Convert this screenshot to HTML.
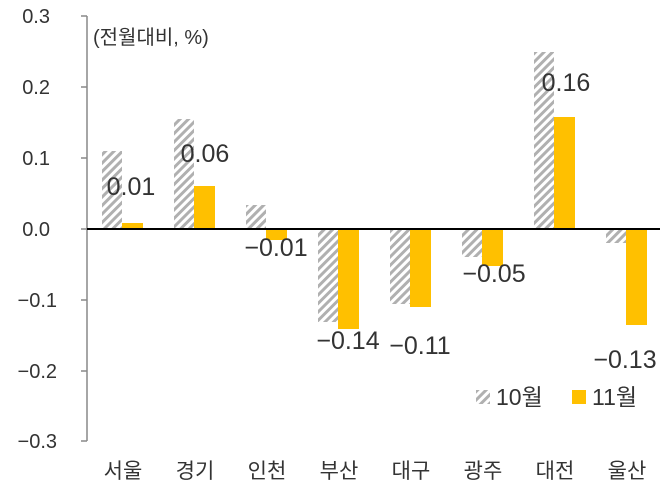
<!DOCTYPE html><html><head><meta charset="utf-8"><style>body{margin:0;background:#fff}svg{display:block}text{font-family:"Liberation Sans","Noto Sans CJK KR",sans-serif;fill:#333}</style></head><body>
<svg width="666" height="504" viewBox="0 0 666 504">
<defs><pattern id="h" patternUnits="userSpaceOnUse" width="6" height="6" patternTransform="rotate(45)"><rect width="6" height="6" fill="#fff"/><rect width="3" height="6" fill="#b0b0b0"/></pattern></defs>
<line x1="87" y1="16" x2="87" y2="441" stroke="#888" stroke-width="1.5"/>
<g stroke="#888" stroke-width="1.5">
<line x1="81" y1="16" x2="87" y2="16"/><line x1="81" y1="87" x2="87" y2="87"/><line x1="81" y1="158" x2="87" y2="158"/><line x1="81" y1="229" x2="87" y2="229"/><line x1="81" y1="300" x2="87" y2="300"/><line x1="81" y1="371" x2="87" y2="371"/><line x1="81" y1="441" x2="87" y2="441"/></g>
<g font-size="20" text-anchor="end">
<text x="50" y="23">0.3</text><text x="50" y="94">0.2</text><text x="50" y="165">0.1</text><text x="50" y="236">0.0</text><text x="57" y="307">−0.1</text><text x="57" y="378">−0.2</text><text x="57" y="448">−0.3</text></g>
<text x="93" y="44" font-size="20">(전월대비, %)</text>
<g fill="url(#h)">
<rect x="102" y="151" width="20" height="78"/><rect x="174" y="119" width="20" height="110"/><rect x="246" y="205" width="20" height="24"/><rect x="318" y="229" width="20" height="93"/><rect x="390" y="229" width="20" height="75"/><rect x="462" y="229" width="20" height="28"/><rect x="534" y="52" width="20" height="177"/><rect x="606" y="229" width="20" height="14"/></g>
<g fill="#ffc000">
<rect x="122" y="223" width="21" height="6"/><rect x="194" y="186" width="21" height="43"/><rect x="266" y="229" width="21" height="11"/><rect x="338" y="229" width="21" height="100"/><rect x="410" y="229" width="21" height="78"/><rect x="482" y="229" width="21" height="37"/><rect x="554" y="117" width="21" height="112"/><rect x="626" y="229" width="21" height="96"/></g>
<line x1="87" y1="229" x2="660" y2="229" stroke="#000" stroke-width="2"/>
<g font-size="25" text-anchor="middle">
<text x="131" y="195">0.01</text><text x="205" y="162">0.06</text><text x="276" y="256">−0.01</text><text x="348" y="349">−0.14</text><text x="420" y="354">−0.11</text><text x="494" y="282">−0.05</text><text x="566" y="91">0.16</text><text x="625" y="368">−0.13</text></g>
<g font-size="21" text-anchor="middle">
<text x="123" y="478">서울</text><text x="195" y="478">경기</text><text x="267" y="478">인천</text><text x="339" y="478">부산</text><text x="411" y="478">대구</text><text x="483" y="478">광주</text><text x="555" y="478">대전</text><text x="627" y="478">울산</text></g>
<rect x="476" y="390" width="14" height="14" fill="url(#h)"/>
<text x="496" y="405" font-size="23">10월</text>
<rect x="572" y="390" width="14" height="14" fill="#ffc000"/>
<text x="592" y="405" font-size="23">11월</text>
</svg></body></html>
